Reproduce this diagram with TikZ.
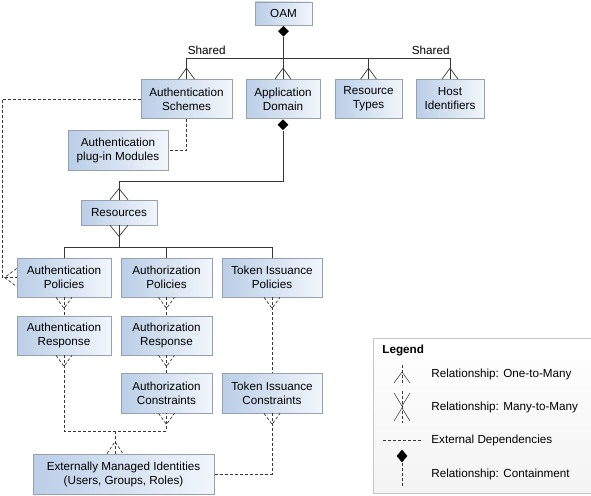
\documentclass[tikz,border=0pt]{standalone}
\usepackage{fontspec}
\setmainfont{Liberation Sans}
\usetikzlibrary{shapes.geometric}
\usetikzlibrary{positioning}
\definecolor{boxleft}{RGB}{186,206,231}
\definecolor{boxright}{RGB}{242,246,252}
\definecolor{boxline}{RGB}{150,162,178}
\definecolor{linegray}{RGB}{55,55,55}
\tikzset{box/.style = {draw=boxline, left color=boxleft, right color=boxright,
                       align=center, inner sep=0, minimum height=39,
                       font=\fontsize{11.7}{14}\selectfont}}
\tikzset{dmd/.style = {fill, diamond, inner sep=0, minimum width=11, minimum height=11}}
\tikzset{ext/.style = {dash pattern=on 3pt off 2pt}}
\tikzset{lbl/.style = {inner sep=0, font=\fontsize{11.7}{14}\selectfont}}

\begin{document}
\begin{tikzpicture}[x=1pt, y=-1pt, line width=0.7pt, draw=linegray]
      \useasboundingbox (0, 0) rectangle (591, 495);

      \node [box, minimum width=57, minimum height=23] (oam) at (283.5, 13.5) {OAM};
      \node [box, minimum width=91] (schemes) at (186.5, 99) {Authentication\\Schemes};
      \node [box, minimum width=74] (domain) at (283, 99) {Application\\Domain};
      \node [box, minimum width=67] (rtypes) at (368.5, 99) {Resource\\Types};
      \node [box, minimum width=68] (hosts) at (450, 99) {Host\\Identifiers};
      \node [box, minimum width=100, minimum height=40] (plugins) at (118, 150) {Authentication\\plug-in Modules};
      \node [box, minimum width=76, minimum height=25] (resources) at (119, 212.5) {Resources};
      \node [box, minimum width=94] (authnpol) at (64, 277.5) {Authentication\\Policies};
      \node [box, minimum width=91] (authzpol) at (166.5, 277.5) {Authorization\\Policies};
      \node [box, minimum width=100] (tokenpol) at (272, 277.5) {Token Issuance\\Policies};
      \node [box, minimum width=94] (authnresp) at (64, 335.5) {Authentication\\Response};
      \node [box, minimum width=91] (authzresp) at (166.5, 335.5) {Authorization\\Response};
      \node [box, minimum width=91, minimum height=40] (authzcons) at (166.5, 393) {Authorization\\Constraints};
      \node [box, minimum width=100, minimum height=40] (tokencons) at (272, 393) {Token Issuance\\Constraints};
      \node [box, minimum width=181, minimum height=40] (identities) at (123.5, 474) {Externally Managed Identities\\(Users, Groups, Roles)};

      \coordinate (bar) at (0, 58);
      \coordinate (shared) at (0, 55);
      \coordinate (turn) at (0, 181);
      \coordinate (bar2) at (0, 247);
      \coordinate (left) at (2, 0);
      \coordinate (join) at (115, 431);
      \coordinate (idtop) at (join |- identities.north);

      \node [dmd, below=0 of oam] (oamd) {};
      \draw (oamd.south) -- (oamd.south |- bar);
      \draw (schemes.north |- bar) -- (hosts.north |- bar);
      \node [lbl, anchor=base west, xshift=1] at (schemes.north |- shared) {Shared};
      \node [lbl, anchor=base east] at (hosts.north |- shared) {Shared};
      \foreach \n in {schemes, domain, rtypes, hosts} {
        \draw (\n.north |- bar) -- (\n.north);
        \draw ([xshift=-8]\n.north) -- ++(8, -11) -- ++(8, 11);
      }

      \node [dmd, below=0 of domain] (domd) {};
      \draw (domd.south) -- (domd.south |- turn) -- (resources.north |- turn) -- (resources.north);
      \draw ([xshift=-9]resources.north) -- ++(9, -11) -- ++(9, 11);
      \draw ([xshift=-9]resources.south) -- ++(9, 11) -- ++(9, -11);
      \draw (resources.south) -- (resources.south |- bar2);
      \draw (authnpol.north |- bar2) -- (tokenpol.north |- bar2);
      \foreach \n in {authnpol, authzpol, tokenpol}
        \draw (\n.north |- bar2) -- (\n.north);

      \draw [ext] (schemes.west) -- (schemes.west -| left) -- (left |- authnpol.west) -- (authnpol.west);
      \draw [ext] ([yshift=9]authnpol.west) -- ++(-12, 9) -- ++(12, 9);
      \draw [ext] (schemes.south) -- (schemes.south |- plugins.east) -- (plugins.east);

      \foreach \a/\b in {authnpol/authnresp, authzpol/authzresp, authzresp/authzcons, tokenpol/tokencons}
        \draw [ext] (\a.south) -- (\b.north);
      \foreach \n in {authnpol, authzpol, tokenpol, authnresp, authzresp, authzcons, tokencons}
        \draw [ext] ([xshift=-8]\n.south) -- ++(8, 11) -- ++(8, -11);

      \draw [ext] (authnresp.south) -- (authnresp.south |- join) -- (authzcons.south |- join) -- (authzcons.south);
      \draw [ext] (join) -- (idtop);
      \draw [ext] ([xshift=-8]idtop) -- ++(8, -12) -- ++(8, 12);
      \draw [ext] (tokencons.south) -- (tokencons.south |- identities.east) -- (identities.east);

      \node [draw=gray!45, top color=white, bottom color=gray!9, inner sep=0, anchor=north west,
             minimum width=217.5, minimum height=154.5] (legend) at (373, 338) {};
      \node [lbl, anchor=west, font=\fontsize{11.7}{14}\selectfont\bfseries] at (382, 350) {Legend};
      \draw [ext, line width=0.5pt] (402, 365) -- (402, 385);
      \draw [line width=0.5pt] (394, 383) -- (402, 372) -- (410, 383);
      \node [lbl, anchor=west] at (431, 374) {Relationship: One-to-Many};
      \draw [ext, line width=0.5pt] (402, 391) -- (402, 423);
      \draw [line width=0.5pt] (394, 393) -- (402, 406) -- (410, 393);
      \draw [line width=0.5pt] (394, 421) -- (402, 408) -- (410, 421);
      \node [lbl, anchor=west] at (431, 407) {Relationship: Many-to-Many};
      \draw [ext, line width=0.5pt] (383, 440) -- (423, 440);
      \node [lbl, anchor=west] at (431, 440) {External Dependencies};
      \node [dmd, minimum height=13] (contd) at (402, 456) {};
      \draw [ext, line width=0.5pt] (contd.south) -- (402, 487);
      \node [lbl, anchor=west] at (431, 474) {Relationship: Containment};
\end{tikzpicture}
\end{document}
